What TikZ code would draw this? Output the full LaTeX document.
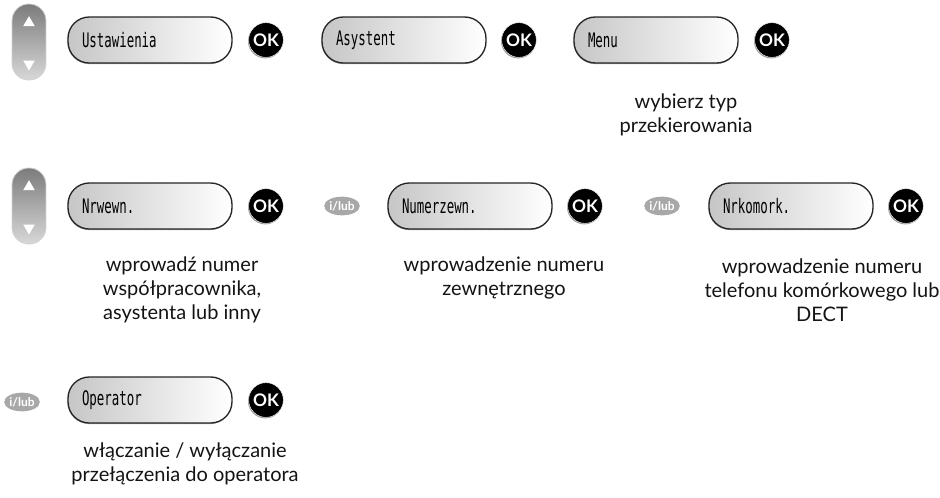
\documentclass[tikz,border=0pt]{standalone}
\usepackage{fontspec}
\setmainfont{Lato}
\newfontfamily\lcdfont[FakeStretch=0.62]{DejaVu Sans Mono}
\usetikzlibrary{positioning,shapes.geometric,shadows}
\definecolor{keytop}{HTML}{7C7C7C}
\definecolor{keybottom}{HTML}{D8D8D8}
\definecolor{lcdleft}{HTML}{C6C6C6}
\definecolor{orfill}{HTML}{A8A8A8}
\definecolor{captext}{HTML}{141414}
\tikzset{
  scrollkey/.style={
    rounded corners=12.5pt,
    draw=gray!35,
    line width=0.6pt,
    top color=keytop,
    bottom color=keybottom,
    minimum width=25.5pt,
    minimum height=57pt,
    inner sep=0pt
  },
  keytri/.style={
    regular polygon,
    regular polygon sides=3,
    fill=white,
    minimum size=10pt,
    inner sep=0pt
  },
  lcd/.style={
    rounded corners=16pt,
    draw=black!85,
    line width=1pt,
    left color=lcdleft,
    right color=white,
    drop shadow={shadow xshift=-0.3pt, shadow yshift=-0.8pt, opacity=0.7},
    align=left,
    text width=102pt,
    inner xsep=10.5pt,
    minimum height=34.5pt,
    font=\lcdfont\fontsize{15}{15}\selectfont
  },
  okbtn/.style={
    circle,
    fill=black,
    draw=white,
    line width=0.3pt,
    drop shadow={shadow xshift=-0.5pt, shadow yshift=-0.8pt, opacity=0.8},
    minimum size=26pt,
    inner sep=0pt,
    text=white,
    font=\bfseries\fontsize{13}{13}\selectfont
  },
  orsign/.style={
    ellipse,
    fill=orfill,
    text=white,
    minimum width=26pt,
    minimum height=14pt,
    inner sep=0pt,
    font=\bfseries\fontsize{9}{9}\selectfont
  },
  caption/.style={align=center, text=captext, font=\fontsize{15}{18}\selectfont}
}

\begin{document}
\begin{tikzpicture}[x=0.75pt,y=-0.75pt]
\path[use as bounding box] (0,0) rectangle (940,497);
\fill[white] (0,0) rectangle (940,497);

% first row
\node[scrollkey] (scrollA) at (29,42) {};
\node[keytri, below=9pt of scrollA.north] (scrollAup) {};
\node[keytri, shape border rotate=180, above=7pt of scrollA.south] (scrollAdown) {};

\node[lcd] (settings) at (150,40) {Ustawienia};
\node[okbtn] (okA) at (266,40) {OK};
\node[lcd] (assist) at (404,40) {Asystent};
\node[okbtn] (okB) at (519,40) {OK};
\node[lcd] (menu) at (656,40) {Menu};
\node[okbtn] (okC) at (772,40) {OK};
\node[caption] (pickType) at (686,115) {wybierz typ\\przekierowania};

% second row
\node[scrollkey] (scrollB) at (29,206) {};
\node[keytri, below=9pt of scrollB.north] (scrollBup) {};
\node[keytri, shape border rotate=180, above=7pt of scrollB.south] (scrollBdown) {};

\node[lcd] (internal) at (150,206) {Nrwewn.};
\node[okbtn] (okD) at (266,206) {OK};
\node[orsign] (orA) at (342,206) {i/lub};
\node[lcd] (external) at (470,206) {Numerzewn.};
\node[okbtn] (okE) at (585,206) {OK};
\node[orsign] (orB) at (662,206) {i/lub};
\node[lcd] (mobile) at (791,206) {Nrkomork.};
\node[okbtn] (okF) at (906,206) {OK};

\node[caption] (internalNote) at (182,290) {wprowadź numer\\współpracownika,\\asystenta lub inny};
\node[caption] (externalNote) at (504,278) {wprowadzenie numeru\\zewnętrznego};
\node[caption] (mobileNote) at (822,290) {wprowadzenie numeru\\telefonu komórkowego lub\\DECT};

% third row
\node[orsign] (orC) at (22,402) {i/lub};
\node[lcd] (operator) at (150,400) {Operator};
\node[okbtn] (okG) at (266,400) {OK};
\node[caption] (operatorNote) at (185,464) {włączanie / wyłączanie\\przełączenia do operatora};

\end{tikzpicture}
\end{document}
